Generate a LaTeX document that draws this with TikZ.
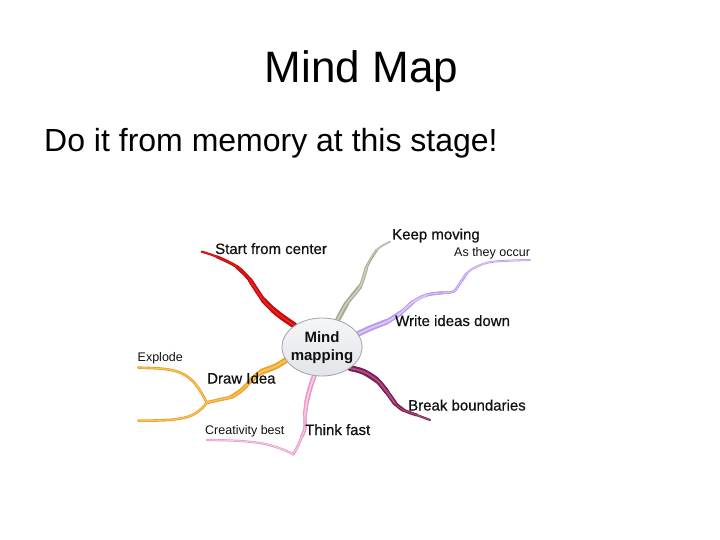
\documentclass[tikz,border=0pt]{standalone}
\usepackage{fontspec}
\setmainfont{Liberation Sans}
\newfontfamily\lblfont{Liberation Sans}[FakeBold=0.6]
\usetikzlibrary{shapes.geometric}
\pgfdeclarelayer{bg}
\pgfsetlayers{bg,main}
\definecolor{redo}{HTML}{C40C0C}
\definecolor{redi}{HTML}{EE2222}
\definecolor{grayo}{HTML}{A9A996}
\definecolor{grayi}{HTML}{D0D0C0}
\definecolor{lavo}{HTML}{BB99EA}
\definecolor{lavi}{HTML}{DCCAF6}
\definecolor{mago}{HTML}{7C1F4F}
\definecolor{magi}{HTML}{B04C88}
\definecolor{pinko}{HTML}{EA98C8}
\definecolor{pinki}{HTML}{F8CCE6}
\definecolor{oro}{HTML}{EDA22A}
\definecolor{ori}{HTML}{F7C461}
\definecolor{ellfill}{HTML}{E3E4E8}
\definecolor{elltop}{HTML}{F5F6F8}
\definecolor{elldraw}{HTML}{A0A3A8}
\definecolor{txt}{HTML}{111111}
\newcommand\brseg[3]{\draw[br,draw=#1,line width=#2bp] plot[smooth,tension=0.6] coordinates {#3};}
\tikzset{
  br/.style={line cap=round, line join=round},
  lbl/.style={anchor=base west, inner sep=0, text=txt, font=\lblfont\fontsize{15bp}{18bp}\selectfont},
  sublbl/.style={anchor=base west, inner sep=0, text=txt, font=\fontsize{12.5bp}{15bp}\selectfont},
  center/.style={ellipse, minimum width=80bp, minimum height=58bp, inner sep=0,
    top color=elltop, bottom color=ellfill, draw=elldraw, line width=0.8bp}
}
\begin{document}
\begin{tikzpicture}[x=1bp,y=-1bp]
\useasboundingbox (0,0) rectangle (720,540);

\node[anchor=base, inner sep=0, font=\fontsize{44bp}{50bp}\selectfont] (title) at (361.5,83) {Mind Map};
\node[anchor=base west, inner sep=0, font=\fontsize{32bp}{38bp}\selectfont] (subtitle) at (44,152) {Do it from memory at this stage!};

\node[center] (mm) at (322,347) {};
\node[inner sep=0, align=center, text=txt, font=\bfseries\fontsize{15bp}{18bp}\selectfont] (mmtext) at (322,347.5) {Mind\\mapping};

\coordinate (redend) at (201.7,251.7);
\coordinate (grayend) at (390,241.7);
\coordinate (lavend) at (530,260);
\coordinate (magend) at (430,420);
\coordinate (pinktip) at (293.3,454.3);
\coordinate (pinkend) at (206.7,440);
\coordinate (orjn) at (206.7,402.7);
\coordinate (orup) at (138.3,367.7);
\coordinate (ordn) at (138.3,420.7);

\begin{pgfonlayer}{bg}
\fill[white] (0,0) rectangle (720,540);
% red: Start from center
\brseg{redo}{2.2}{(mm.142) (281.7,316.7) (273.3,310) (263.3,300) (250,280) (236.7,266.7) (216.7,256.7) (redend)}
\brseg{redo}{3.0}{(mm.142) (281.7,316.7) (273.3,310) (263.3,300) (250,280) (236.7,266.7) (216.7,256.7)}
\brseg{redo}{3.8}{(mm.142) (281.7,316.7) (273.3,310) (263.3,300) (250,280) (236.7,266.7)}
\brseg{redo}{4.6}{(mm.142) (281.7,316.7) (273.3,310) (263.3,300) (250,280)}
\brseg{redo}{5.4}{(mm.142) (281.7,316.7) (273.3,310) (263.3,300)}
\brseg{redo}{6.0}{(mm.142) (281.7,316.7) (273.3,310)}
\brseg{redi}{0.7}{(mm.142) (281.7,316.7) (273.3,310) (263.3,300) (250,280) (236.7,266.7) (216.7,256.7) (redend)}
\brseg{redi}{1.6}{(mm.142) (281.7,316.7) (273.3,310) (263.3,300) (250,280)}
% gray: Keep moving
\brseg{grayo}{1.8}{(mm.60) (346.7,303.3) (360,286.7) (366.7,266.7) (376.7,250) (grayend)}
\brseg{grayo}{2.6}{(mm.60) (346.7,303.3) (360,286.7) (366.7,266.7) (376.7,250)}
\brseg{grayo}{3.4}{(mm.60) (346.7,303.3) (360,286.7) (366.7,266.7)}
\brseg{grayo}{4.4}{(mm.60) (346.7,303.3) (360,286.7)}
\brseg{grayo}{5.2}{(mm.60) (346.7,303.3)}
\brseg{grayi}{0.7}{(mm.60) (346.7,303.3) (360,286.7) (366.7,266.7) (376.7,250) (grayend)}
\brseg{grayi}{1.5}{(mm.60) (346.7,303.3) (360,286.7) (366.7,266.7)}
% lavender: Write ideas down / As they occur
\brseg{lavo}{2.0}{(mm.20) (370,328.3) (386.7,321.7) (400,313.3) (413.3,301.7) (426.7,295) (443.3,292.7) (453.3,291.7) (460,283.3) (466.7,273.3) (476.7,266.7) (493.3,261.7) (lavend)}
\brseg{lavo}{2.6}{(mm.20) (370,328.3) (386.7,321.7) (400,313.3) (413.3,301.7) (426.7,295) (443.3,292.7) (453.3,291.7) (460,283.3) (466.7,273.3)}
\brseg{lavo}{3.2}{(mm.20) (370,328.3) (386.7,321.7) (400,313.3) (413.3,301.7) (426.7,295) (443.3,292.7)}
\brseg{lavo}{4.0}{(mm.20) (370,328.3) (386.7,321.7) (400,313.3) (413.3,301.7)}
\brseg{lavo}{4.8}{(mm.20) (370,328.3) (386.7,321.7) (400,313.3)}
\brseg{lavo}{5.6}{(mm.20) (370,328.3) (386.7,321.7)}
\brseg{lavi}{0.8}{(mm.20) (370,328.3) (386.7,321.7) (400,313.3) (413.3,301.7) (426.7,295) (443.3,292.7) (453.3,291.7) (460,283.3) (466.7,273.3) (476.7,266.7) (493.3,261.7) (lavend)}
\brseg{lavi}{1.8}{(mm.20) (370,328.3) (386.7,321.7) (400,313.3) (413.3,301.7) (426.7,295)}
% magenta: Break boundaries
\brseg{mago}{2.2}{(mm.-37) (363.3,371.7) (376.7,380) (386.7,391.7) (395,403.3) (403.3,410) (416.7,415) (magend)}
\brseg{mago}{3.0}{(mm.-37) (363.3,371.7) (376.7,380) (386.7,391.7) (395,403.3) (403.3,410) (416.7,415)}
\brseg{mago}{3.8}{(mm.-37) (363.3,371.7) (376.7,380) (386.7,391.7) (395,403.3) (403.3,410)}
\brseg{mago}{4.6}{(mm.-37) (363.3,371.7) (376.7,380) (386.7,391.7) (395,403.3)}
\brseg{mago}{5.2}{(mm.-37) (363.3,371.7) (376.7,380) (386.7,391.7)}
\brseg{mago}{5.8}{(mm.-37) (363.3,371.7) (376.7,380)}
\brseg{magi}{0.8}{(mm.-37) (363.3,371.7) (376.7,380) (386.7,391.7) (395,403.3) (403.3,410) (416.7,415) (magend)}
\brseg{magi}{1.8}{(mm.-37) (363.3,371.7) (376.7,380) (386.7,391.7) (395,403.3)}
% pink: Think fast / Creativity best
\brseg{pinko}{2.8}{(mm.-105) (310,388.3) (306.7,401.7) (305,415) (305,428.3) (301.7,436.7) (298.3,445) (pinktip)}
\brseg{pinko}{3.4}{(mm.-105) (310,388.3) (306.7,401.7) (305,415) (305,428.3) (301.7,436.7)}
\brseg{pinko}{4.2}{(mm.-105) (310,388.3) (306.7,401.7) (305,415)}
\brseg{pinko}{4.8}{(mm.-105) (310,388.3) (306.7,401.7)}
\brseg{pinki}{1.0}{(mm.-105) (310,388.3) (306.7,401.7) (305,415) (305,428.3) (301.7,436.7) (298.3,445) (pinktip)}
\brseg{pinki}{1.6}{(mm.-105) (310,388.3) (306.7,401.7) (305,415)}
\brseg{pinko}{2.2}{(pinktip) (281.7,449) (261.7,443.3) (235,440.7) (pinkend)}
\brseg{pinki}{0.8}{(pinktip) (281.7,449) (261.7,443.3) (235,440.7) (pinkend)}
% orange: Draw Idea / Explode
\brseg{oro}{3.4}{(mm.-160) (275,366.7) (261.7,371.7) (251.7,380) (241.7,390) (231.7,396.7) (218.3,400) (orjn)}
\brseg{oro}{4.2}{(mm.-160) (275,366.7) (261.7,371.7) (251.7,380) (241.7,390) (231.7,396.7)}
\brseg{oro}{5.0}{(mm.-160) (275,366.7) (261.7,371.7) (251.7,380)}
\brseg{oro}{5.8}{(mm.-160) (275,366.7) (261.7,371.7)}
\brseg{oro}{2.6}{(orjn) (201.7,393.3) (193.3,381.7) (181.7,373.3) (165,369) (orup)}
\brseg{oro}{2.6}{(orjn) (200,410) (188.3,416.7) (168.3,420) (ordn)}
\brseg{ori}{1.2}{(mm.-160) (275,366.7) (261.7,371.7) (251.7,380) (241.7,390) (231.7,396.7) (218.3,400) (orjn)}
\brseg{ori}{2.0}{(mm.-160) (275,366.7) (261.7,371.7) (251.7,380)}
\brseg{ori}{0.9}{(orjn) (201.7,393.3) (193.3,381.7) (181.7,373.3) (165,369) (orup)}
\brseg{ori}{0.9}{(orjn) (200,410) (188.3,416.7) (168.3,420) (ordn)}
\end{pgfonlayer}

\node[lbl] (start) at (215,254) {Start from center};
\node[lbl] (keep) at (392,239.5) {Keep moving};
\node[sublbl] (occur) at (454,256.5) {As they occur};
\node[lbl] (write) at (395,326) {Write ideas down};
\node[lbl] (break) at (408,410.5) {Break boundaries};
\node[lbl] (think) at (305,435) {Think fast};
\node[sublbl] (creat) at (205,434.5) {Creativity best};
\node[lbl] (draw) at (207,383.5) {Draw Idea};
\node[sublbl] (explode) at (137.5,361) {Explode};
\end{tikzpicture}
\end{document}
